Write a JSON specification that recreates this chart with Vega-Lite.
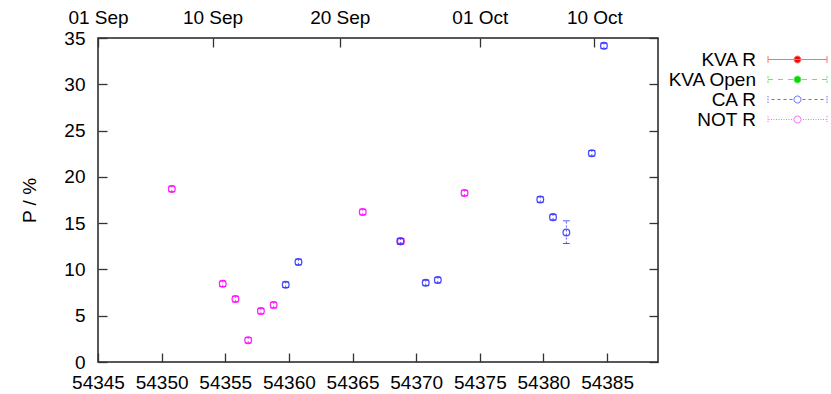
{
  "$schema": "https://vega.github.io/schema/vega-lite/v6.json",
  "width": 560,
  "height": 324,
  "autosize": {"type": "none"},
  "padding": {"left": 98, "top": 38, "right": 173, "bottom": 32},
  "background": "white",
  "data": {
    "values": [
      {"series": "NOT R", "mjd": 54350.8, "p": 18.7, "lo": 18.4, "hi": 19.0},
      {"series": "NOT R", "mjd": 54354.8, "p": 8.45, "lo": 8.15, "hi": 8.75},
      {"series": "NOT R", "mjd": 54355.8, "p": 6.8, "lo": 6.5, "hi": 7.1},
      {"series": "NOT R", "mjd": 54356.8, "p": 2.35, "lo": 2.05, "hi": 2.65},
      {"series": "NOT R", "mjd": 54357.8, "p": 5.5, "lo": 5.2, "hi": 5.8},
      {"series": "NOT R", "mjd": 54358.8, "p": 6.15, "lo": 5.85, "hi": 6.45},
      {"series": "NOT R", "mjd": 54365.8, "p": 16.2, "lo": 15.9, "hi": 16.5},
      {"series": "NOT R", "mjd": 54368.8, "p": 13.05, "lo": 12.75, "hi": 13.35},
      {"series": "NOT R", "mjd": 54373.8, "p": 18.25, "lo": 17.95, "hi": 18.55},
      {"series": "CA R", "mjd": 54359.75, "p": 8.35, "lo": 8.05, "hi": 8.65},
      {"series": "CA R", "mjd": 54360.75, "p": 10.8, "lo": 10.5, "hi": 11.1},
      {"series": "CA R", "mjd": 54368.75, "p": 13.05, "lo": 12.75, "hi": 13.35},
      {"series": "CA R", "mjd": 54370.75, "p": 8.55, "lo": 8.25, "hi": 8.85},
      {"series": "CA R", "mjd": 54371.7, "p": 8.85, "lo": 8.55, "hi": 9.15},
      {"series": "CA R", "mjd": 54379.75, "p": 17.55, "lo": 17.25, "hi": 17.85},
      {"series": "CA R", "mjd": 54380.75, "p": 15.65, "lo": 15.35, "hi": 15.95},
      {"series": "CA R", "mjd": 54381.8, "p": 14.0, "lo": 12.8, "hi": 15.25},
      {"series": "CA R", "mjd": 54383.8, "p": 22.55, "lo": 22.25, "hi": 22.85},
      {"series": "CA R", "mjd": 54384.75, "p": 34.15, "lo": 33.85, "hi": 34.45}
    ]
  },
  "resolve": {"axis": {"x": "independent", "y": "independent"}, "legend": {"color": "independent"}},
  "layer": [
    {
      "mark": {"type": "rule", "strokeWidth": 1, "strokeDash": [2, 2], "opacity": 0.8},
      "encoding": {
        "x": {"field": "mjd", "type": "quantitative", "scale": {"domain": [54345, 54389], "nice": false, "zero": false},
          "axis": {"orient": "top", "title": null, "values": [54345, 54354, 54364, 54375, 54384], "tickSize": -9, "labelPadding": 20,
            "labelExpr": "datum.value == 54345 ? '01 Sep' : datum.value == 54354 ? '10 Sep' : datum.value == 54364 ? '20 Sep' : datum.value == 54375 ? '01 Oct' : '10 Oct'"}},
        "y": {"field": "lo", "type": "quantitative", "scale": {"domain": [0, 35], "nice": false, "zero": false},
          "axis": {"orient": "right", "title": null, "values": [0, 5, 10, 15, 20, 25, 30, 35], "tickSize": -9, "labels": false}},
        "y2": {"field": "hi"},
        "color": {"field": "series", "type": "nominal", "legend": null,
          "scale": {"domain": ["KVA R", "KVA Open", "CA R", "NOT R"], "range": ["#ff0000", "#00dd00", "#3030ff", "#ff00ff"]}}
      }
    },
    {
      "mark": {"type": "tick", "orient": "horizontal", "size": 7, "thickness": 1, "opacity": 0.8, "strokeDash": [2, 1]},
      "encoding": {
        "x": {"field": "mjd", "type": "quantitative", "axis": null},
        "y": {"field": "lo", "type": "quantitative", "axis": null},
        "color": {"field": "series", "type": "nominal", "legend": null}
      }
    },
    {
      "mark": {"type": "tick", "orient": "horizontal", "size": 7, "thickness": 1, "opacity": 0.8, "strokeDash": [2, 1]},
      "encoding": {
        "x": {"field": "mjd", "type": "quantitative", "axis": null},
        "y": {"field": "hi", "type": "quantitative", "axis": null},
        "color": {"field": "series", "type": "nominal", "legend": null}
      }
    },
    {
      "mark": {"type": "point", "shape": "circle", "filled": false, "size": 45, "strokeWidth": 1.3, "opacity": 0.85},
      "encoding": {
        "x": {"field": "mjd", "type": "quantitative", "scale": {"domain": [54345, 54389], "nice": false, "zero": false},
          "axis": {"orient": "bottom", "title": null, "values": [54345, 54350, 54355, 54360, 54365, 54370, 54375, 54380, 54385], "tickSize": -9, "labelPadding": 20, "format": "d"}},
        "y": {"field": "p", "type": "quantitative", "scale": {"domain": [0, 35], "nice": false, "zero": false},
          "axis": {"orient": "left", "title": "P / %", "values": [0, 5, 10, 15, 20, 25, 30, 35], "tickSize": -9, "labelPadding": 22, "titlePadding": 24}},
        "color": {"field": "series", "type": "nominal", "legend": null}
      }
    },
    {
      "transform": [{"filter": "datum.p < 0"}],
      "mark": {"type": "point", "size": 4, "strokeWidth": 1, "opacity": 1},
      "encoding": {
        "x": {"field": "mjd", "type": "quantitative", "axis": null},
        "y": {"field": "p", "type": "quantitative", "axis": null},
        "shape": {"field": "series", "type": "nominal",
          "scale": {"domain": ["KVA R", "KVA Open", "CA R", "NOT R"],
            "range": [
              "M-29.5,0H29.5M-29.5,-3.5V3.5M29.5,-3.5V3.5M-3.5,0A3.5,3.5,0,1,0,3.5,0A3.5,3.5,0,1,0,-3.5,0Z",
              "M-29.5,0H-24.5M-19.5,0H-14.5M-9.5,0H-4.5M4.5,0H9.5M14.5,0H19.5M24.5,0H29.5M-29.5,-3.5V-1M29.5,-3.5V-1M-29.5,1V3.5M29.5,1V3.5M-3.5,0A3.5,3.5,0,1,0,3.5,0A3.5,3.5,0,1,0,-3.5,0Z",
              "M-26,0H-23M-20,0H-17M-14,0H-11M-8,0H-5M5,0H8M11,0H14M17,0H20M23,0H26M-29.5,-3.5V-2M-29.5,-0.75V0.75M-29.5,2V3.5M29.5,-3.5V-2M29.5,-0.75V0.75M29.5,2V3.5M-3.5,0A3.5,3.5,0,1,0,3.5,0A3.5,3.5,0,1,0,-3.5,0Z",
              "M-29,0H-28M-26.5,0H-25.5M-24,0H-23M-21.5,0H-20.5M-19,0H-18M-16.5,0H-15.5M-14,0H-13M-11.5,0H-10.5M-9,0H-8M-6.5,0H-5.5M5.5,0H6.5M8,0H9M10.5,0H11.5M13,0H14M15.5,0H16.5M18,0H19M20.5,0H21.5M23,0H24M25.5,0H26.5M28,0H29M-29.5,-3.5V-2.5M-29.5,-1V0M-29.5,1.5V2.5M29.5,-3.5V-2.5M29.5,-1V0M29.5,1.5V2.5M-3.5,0A3.5,3.5,0,1,0,3.5,0A3.5,3.5,0,1,0,-3.5,0Z"
            ]},
          "legend": {"orient": "none", "legendX": 690, "legendY": 12, "title": null}},
        "stroke": {"field": "series", "type": "nominal",
          "scale": {"domain": ["KVA R", "KVA Open", "CA R", "NOT R"], "range": ["#ff7070", "#60ee60", "#6a6aff", "#ff60ff"]},
          "legend": {"orient": "none", "legendX": 690, "legendY": 12, "title": null}},
        "fill": {"field": "series", "type": "nominal",
          "scale": {"domain": ["KVA R", "KVA Open", "CA R", "NOT R"], "range": ["#ff0000", "#00dd00", "transparent", "transparent"]},
          "legend": {"orient": "none", "legendX": 690, "legendY": 12, "title": null}}
      }
    }
  ],
  "config": {
    "view": {"stroke": "#222", "strokeWidth": 1.5},
    "font": "Liberation Sans",
    "legend": {
      "labelAlign": "right", "labelBaseline": "middle", "labelOffset": -51, "symbolOffset": 0,
      "labelFontSize": 19, "labelFont": "Liberation Sans", "labelColor": "#000", "labelLimit": 300,
      "rowPadding": -1, "padding": 0, "symbolSize": 4, "symbolStrokeWidth": 1
    },
    "axis": {
      "labelFont": "Liberation Sans", "labelFontSize": 19, "labelColor": "#000",
      "tickColor": "#333", "tickWidth": 1.3, "domain": false, "grid": false,
      "labelFlush": false, "labelOverlap": false,
      "titleFont": "Liberation Sans", "titleFontSize": 19, "titleFontWeight": "normal", "titleColor": "#000"
    }
  }
}
